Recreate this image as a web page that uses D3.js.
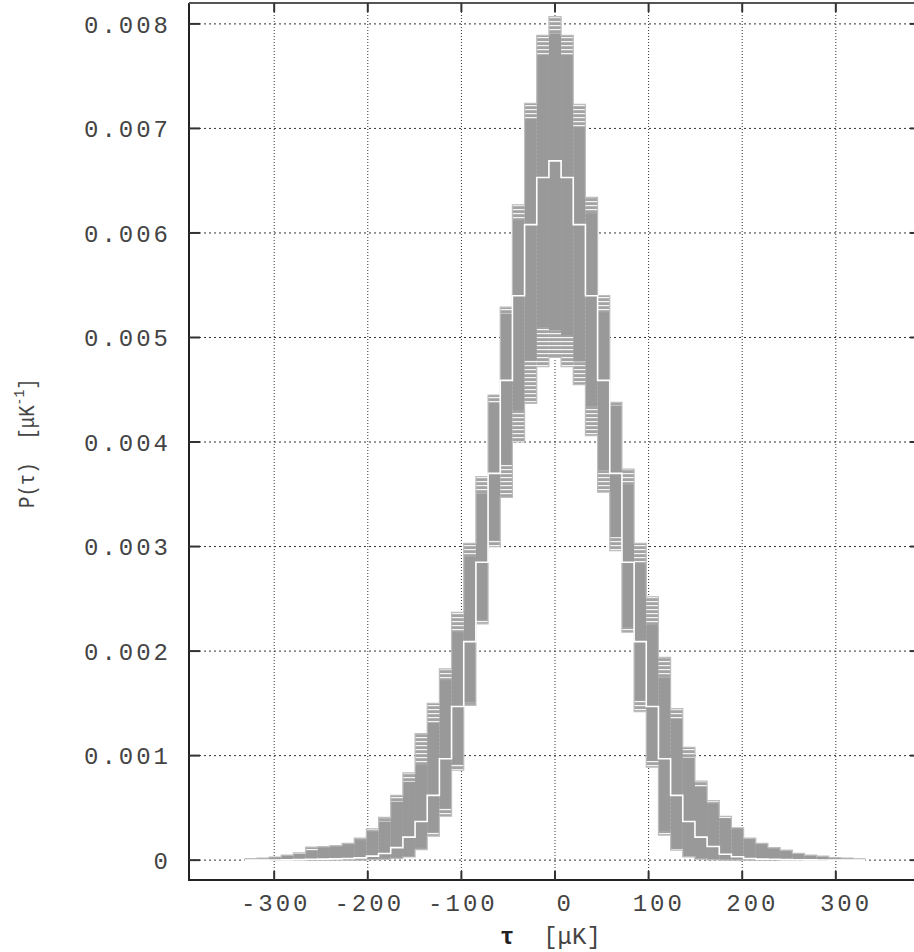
<!DOCTYPE html>
<html>
<head>
<meta charset="utf-8">
<script src="https://cdn.jsdelivr.net/npm/d3@7/dist/d3.min.js"></script>
<style>
  body { margin: 0; background: #fff; }
  text { font-family: "Liberation Mono", "DejaVu Sans Mono", monospace; fill: #444; }
</style>
</head>
<body>
<div id="chart-area"></div>
<script>
// histogram bins (centre of each bin, muK)
const binCenters = [-325, -312, -299, -286, -273, -260, -247, -234, -221, -208, -195, -182, -169,
  -156, -143, -130, -117, -104, -91, -78, -65, -52, -39, -26, -13, 0,
  13, 26, 39, 52, 65, 78, 91, 104, 117, 130, 143, 156, 169,
  182, 195, 208, 221, 234, 247, 260, 273, 286, 299, 312, 325];
const binWidth = 13;

// upper edge of the simulated histograms (units of 1e-3 / muK)
const simMax = [0.015, 0.020, 0.030, 0.048, 0.070, 0.125, 0.130, 0.140, 0.160, 0.210, 0.300, 0.410, 0.620,
  0.835, 1.21, 1.50, 1.83, 2.37, 3.03, 3.67, 4.45, 5.29, 6.27, 7.24, 7.89, 8.07,
  7.89, 7.23, 6.34, 5.40, 4.38, 3.74, 3.03, 2.52, 1.94, 1.45, 1.08, 0.755, 0.570,
  0.420, 0.310, 0.210, 0.160, 0.120, 0.096, 0.064, 0.048, 0.038, 0.025, 0.020, 0.013];

// where the bulk of the simulations starts below the top
const simDenseHi = [0.015, 0.020, 0.030, 0.048, 0.060, 0.090, 0.120, 0.130, 0.150, 0.190, 0.270, 0.370, 0.560,
  0.750, 0.91, 1.31, 1.72, 2.18, 2.90, 3.51, 4.37, 5.23, 6.12, 7.09, 7.70, 7.91,
  7.70, 7.01, 6.19, 5.24, 4.35, 3.59, 2.84, 2.25, 1.75, 1.35, 0.98, 0.700, 0.540,
  0.400, 0.300, 0.200, 0.150, 0.110, 0.090, 0.060, 0.045, 0.035, 0.025, 0.020, 0.013];

// where the bulk of the simulations ends above the bottom
const simDenseLo = [0, 0, 0, 0, 0, 0, 0, 0, 0, 0, 0.005, 0.008, 0.016,
  0.030, 0.12, 0.27, 0.50, 0.92, 1.51, 2.30, 3.06, 3.78, 4.30, 4.78, 5.10, 5.07,
  5.02, 4.77, 4.34, 3.73, 3.09, 2.23, 1.53, 0.95, 0.28, 0.11, 0.035, 0.010, 0.003,
  0, 0, 0, 0, 0, 0, 0, 0, 0, 0, 0, 0];

// lower edge of the simulated histograms
const simMin = [0, 0, 0, 0, 0, 0, 0, 0, 0, 0, 0.005, 0.008, 0.016,
  0.030, 0.10, 0.23, 0.42, 0.86, 1.48, 2.26, 3.00, 3.47, 4.00, 4.37, 4.72, 4.81,
  4.72, 4.55, 4.06, 3.52, 2.96, 2.18, 1.42, 0.89, 0.24, 0.096, 0.032, 0.010, 0.003,
  0, 0, 0, 0, 0, 0, 0, 0, 0, 0, 0, 0];

// observed histogram (white line)
const observed = [0, 0, 0.002, 0.003, 0.005, 0.008, 0.010, 0.012, 0.015, 0.022, 0.038, 0.064, 0.12,
  0.22, 0.37, 0.62, 0.97, 1.47, 2.09, 2.85, 3.70, 4.59, 5.40, 6.08, 6.53, 6.69,
  6.53, 6.08, 5.40, 4.59, 3.70, 2.85, 2.09, 1.47, 0.97, 0.62, 0.37, 0.22, 0.13,
  0.057, 0.032, 0.016, 0.010, 0.008, 0.005, 0.004, 0.003, 0.002, 0, 0, 0];

const xTicks = [-300, -200, -100, 0, 100, 200, 300];
const yTicks = [0, 0.001, 0.002, 0.003, 0.004, 0.005, 0.006, 0.007, 0.008];

const width = 914, height = 952;
const plot = {left: 189, right: 921, top: 3, bottom: 880};

const svg = d3.select('#chart-area')
  .append('svg')
  .attr('width', width)
  .attr('height', height);

// striped fill for the thinly populated parts of the band
const pat = svg.append('defs').append('pattern')
  .attr('id', 'sparse')
  .attr('patternUnits', 'userSpaceOnUse')
  .attr('width', 8).attr('height', 4);
pat.append('rect').attr('width', 8).attr('height', 4).attr('fill', '#a3a3a3');
pat.append('rect').attr('y', 1).attr('width', 8).attr('height', 1.2).attr('fill', '#f4f4f4');

const x = d3.scaleLinear().domain([-391, 391]).range([plot.left, plot.right]);
const y = d3.scaleLinear().domain([-0.00019, 0.0082]).range([plot.bottom, plot.top]);

// grid
svg.append('g').selectAll('line').data(xTicks).join('line')
  .attr('x1', d => x(d)).attr('x2', d => x(d))
  .attr('y1', plot.top).attr('y2', plot.bottom)
  .attr('stroke', '#333').attr('stroke-width', 1)
  .attr('stroke-dasharray', '1,2');
svg.append('g').selectAll('line').data(yTicks).join('line')
  .attr('x1', plot.left).attr('x2', plot.right)
  .attr('y1', d => y(d)).attr('y2', d => y(d))
  .attr('stroke', '#333').attr('stroke-width', 1)
  .attr('stroke-dasharray', '2,3');

// band of simulated histograms
const bins = binCenters.map((c, i) => ({
  x0: c - binWidth / 2, x1: c + binWidth / 2,
  hi: simMax[i] / 1000, dhi: simDenseHi[i] / 1000,
  dlo: simDenseLo[i] / 1000, lo: simMin[i] / 1000,
  obs: observed[i] / 1000
}));

const band = svg.append('g');
// sparse outer part (top to bottom)
band.selectAll('.outer').data(bins).join('rect').attr('class', 'outer')
  .attr('x', d => x(d.x0))
  .attr('width', d => x(d.x1) - x(d.x0))
  .attr('y', d => y(d.hi))
  .attr('height', d => Math.max(1, y(d.lo) - y(d.hi)))
  .attr('fill', 'url(#sparse)');
// dense core
band.selectAll('.core').data(bins).join('rect').attr('class', 'core')
  .attr('x', d => x(d.x0))
  .attr('width', d => x(d.x1) - x(d.x0))
  .attr('y', d => y(d.dhi))
  .attr('height', d => Math.max(1, y(d.dlo) - y(d.dhi)))
  .attr('fill', '#999');

// step outline helper
const step = key => d3.line()(bins.flatMap(d => [[x(d.x0), y(d[key])], [x(d.x1), y(d[key])]]));

svg.append('path').attr('d', step('hi'))
  .attr('fill', 'none').attr('stroke', '#bdbdbd').attr('stroke-width', 1.2);
svg.append('path').attr('d', step('lo'))
  .attr('fill', 'none').attr('stroke', '#bdbdbd').attr('stroke-width', 1.2);

// observed histogram
svg.append('path').attr('d', step('obs'))
  .attr('fill', 'none').attr('stroke', '#fff').attr('stroke-width', 1.6);

// frame
const frame = svg.append('g').attr('stroke', '#222').attr('stroke-width', 2);
frame.append('line').attr('x1', plot.left).attr('x2', plot.left).attr('y1', plot.top).attr('y2', plot.bottom + 1);
frame.append('line').attr('x1', plot.left - 1).attr('x2', plot.right).attr('y1', plot.bottom).attr('y2', plot.bottom);
frame.append('line').attr('x1', plot.left).attr('x2', plot.right).attr('y1', plot.top).attr('y2', plot.top)
  .attr('stroke', '#555');

// ticks (inward, mirrored)
const ticks = svg.append('g').attr('stroke', '#333').attr('stroke-width', 2);
ticks.selectAll('.xb').data(xTicks).join('line').attr('class', 'xb')
  .attr('x1', d => x(d)).attr('x2', d => x(d)).attr('y1', plot.bottom).attr('y2', plot.bottom - 9);
ticks.selectAll('.xt').data(xTicks).join('line').attr('class', 'xt')
  .attr('x1', d => x(d)).attr('x2', d => x(d)).attr('y1', plot.top).attr('y2', plot.top + 9);
ticks.selectAll('.yl').data(yTicks).join('line').attr('class', 'yl')
  .attr('x1', plot.left).attr('x2', plot.left + 11).attr('y1', d => y(d)).attr('y2', d => y(d));
ticks.selectAll('.yr').data(yTicks).join('line').attr('class', 'yr')
  .attr('x1', plot.right).attr('x2', plot.right - 11).attr('y1', d => y(d)).attr('y2', d => y(d));

// tick labels
svg.append('g').selectAll('text').data(xTicks).join('text')
  .attr('x', d => x(d) + 1.5)
  .attr('y', 911)
  .attr('text-anchor', 'middle')
  .attr('font-size', '24px')
  .attr('letter-spacing', '3px')
  .style('white-space', 'pre')
  .text(d => d < 0 ? '-' + Math.abs(d) : ' ' + d);

svg.append('g').selectAll('text').data(yTicks).join('text')
  .attr('x', 171)
  .attr('y', d => y(d))
  .attr('dy', '0.36em')
  .attr('text-anchor', 'end')
  .attr('font-size', '24px')
  .attr('letter-spacing', '3px')
  .text(d => d === 0 ? '0' : d.toFixed(3));

// axis titles
const xTitle = svg.append('text')
  .attr('x', 500)
  .attr('y', 944)
  .attr('font-size', '24px')
  .style('white-space', 'pre');
xTitle.append('tspan').attr('font-weight', 'bold').attr('fill', '#222').text('τ');
xTitle.append('tspan').text('  [μK]');

const yTitle = svg.append('text')
  .attr('transform', 'translate(34, 508) rotate(-90) scale(1, 1.15)')
  .attr('font-size', '19px')
  .style('white-space', 'pre');
yTitle.append('tspan').text('P(τ)  [μK');
yTitle.append('tspan').attr('font-size', '13px').attr('dy', -9).text('-1');
yTitle.append('tspan').attr('dy', 9).text(']');
</script>
</body>
</html>
